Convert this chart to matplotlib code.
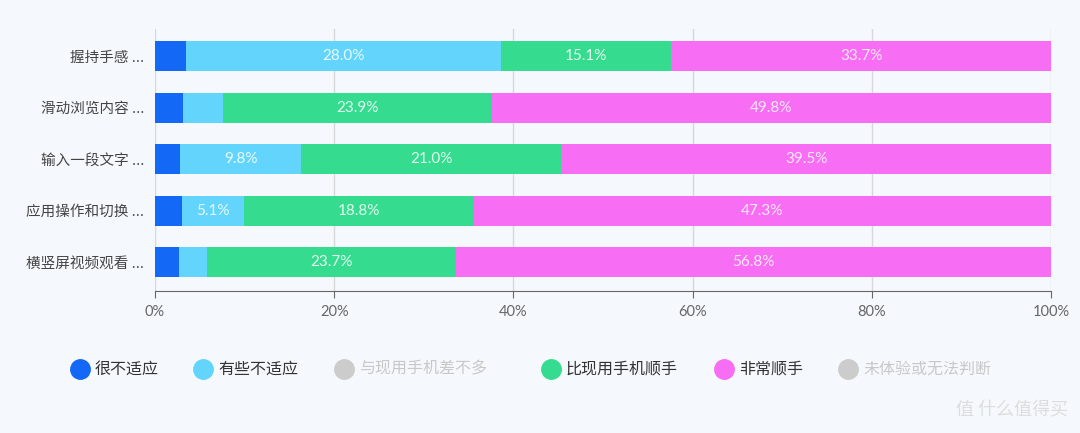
import matplotlib.pyplot as plt
from matplotlib.lines import Line2D
import numpy as np

plt.rcParams['font.family'] = ['Noto Sans CJK SC', 'DejaVu Sans']
num_font = ['Lato', 'DejaVu Sans']

categories = ["握持手感 ...", "滑动浏览内容 ...", "输入一段文字 ...", "应用操作和切换 ...", "横竖屏视频观看 ..."]

# raw percentages (the two grey series are hidden in the chart)
very_bad = [2.75, 2.5, 2.0, 2.2, 2.3]
some_bad = [28.0, 3.6, 9.8, 5.1, 2.7]
better = [15.1, 23.9, 21.0, 18.8, 23.7]
very_good = [33.7, 49.8, 39.5, 47.3, 56.8]

series_names = ["很不适应", "有些不适应", "与现用手机差不多", "比现用手机顺手", "非常顺手", "未体验或无法判断"]
series_on = [True, True, False, True, True, False]
colors = ["#1468f6", "#63d5fc", "#cccccc", "#35dc8f", "#f76ef5", "#cccccc"]

bg = "#f5f9fd"
fig = plt.figure(figsize=(10.8, 4.33), dpi=100, facecolor=bg)
ax = fig.add_axes([155 / 1080, 1 - 291 / 433, 896 / 1080, 262 / 433])
ax.set_facecolor(bg)

data = np.array([very_bad, some_bad, better, very_good])
totals = data.sum(axis=0)
norm = data / totals * 100
bar_colors = [colors[0], colors[1], colors[3], colors[4]]

y = np.arange(len(categories))
left = np.zeros(len(categories))
for k in range(len(data)):
    ax.barh(y, norm[k], left=left, height=0.58, color=bar_colors[k], zorder=3)
    for i in range(len(categories)):
        if norm[k][i] > 5:
            ax.text(left[i] + norm[k][i] / 2, y[i], f"{data[k][i]:.1f}%",
                    ha="center", va="center", color="white", alpha=0.85,
                    fontsize=11, family=num_font, zorder=4)
    left += norm[k]

ax.set_xlim(0, 100)
ax.set_ylim(4.56, -0.53)
ax.set_yticks(y)
ax.set_yticklabels(categories, fontsize=10.5, color="#444444")
ax.tick_params(axis="y", length=0, pad=8)
ax.set_xticks([0, 20, 40, 60, 80, 100])
ax.set_xticklabels(["0%", "20%", "40%", "60%", "80%", "100%"], fontsize=10.5,
                   color="#666666", family=num_font)
ax.tick_params(axis="x", length=5, color="#666666", pad=5)
ax.grid(axis="x", color="#d8d8d8", linewidth=1, zorder=0)
for s in ["top", "right", "left"]:
    ax.spines[s].set_visible(False)
ax.spines["bottom"].set_color("#666666")

# legend drawn by hand
leg_x = [80, 203, 344, 551, 724, 848]
leg_y = 1 - 369 / 433
for name, col, x, vis in zip(series_names, colors, leg_x, series_on):
    fig.add_artist(Line2D([x / 1080], [leg_y], marker="o", markersize=14,
                          color=col, linestyle="none", transform=fig.transFigure))
    fig.text((x + 15) / 1080, leg_y, name, ha="left", va="center", fontsize=11.5,
             color="#333333" if vis else "#c8c8c8")

fig.text(1068 / 1080, 1 - 410 / 433, "值 什么值得买", ha="right", va="center",
         fontsize=13, color="#dddddd")

fig.savefig("out.png", dpi=100, facecolor=bg)
